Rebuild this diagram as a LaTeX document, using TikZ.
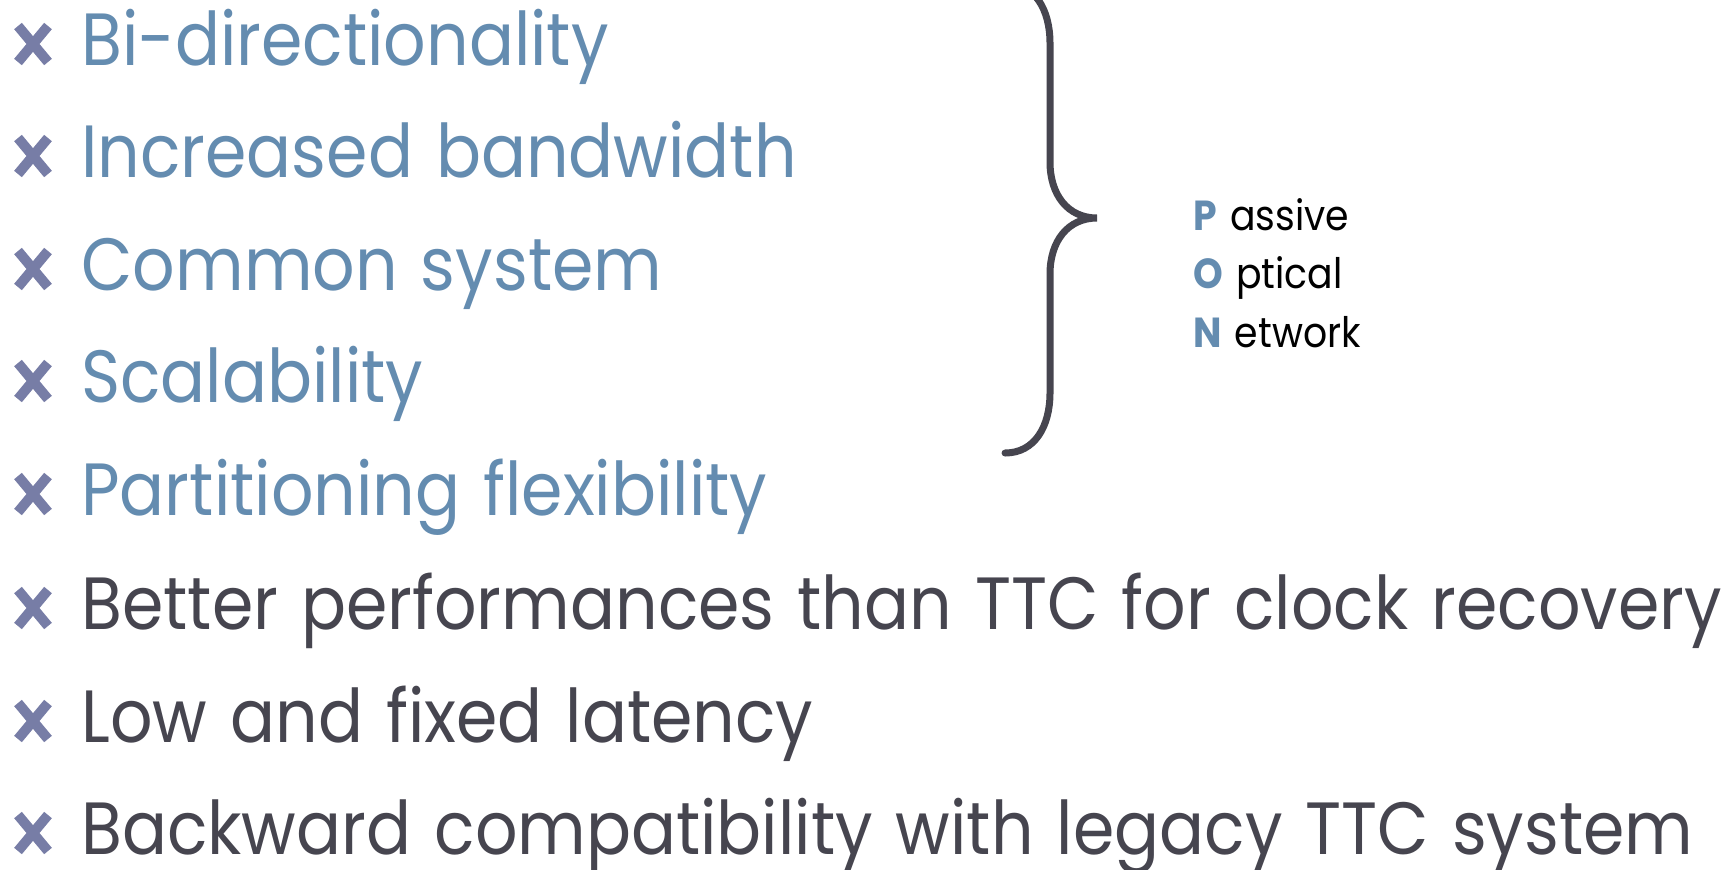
\documentclass[tikz,border=0pt]{standalone}
\usepackage{fontspec}
\setmainfont{Poppins}
\newfontfamily\narrowfont[FakeStretch=0.9,WordSpace=1.3]{Poppins}
\definecolor{itemblue}{HTML}{648CB0}
\definecolor{itemdark}{HTML}{46454F}
\definecolor{crossc}{HTML}{777DA6}
\definecolor{bracec}{HTML}{46454F}
\begin{document}
\begin{tikzpicture}[x=0.5pt,y=-0.5pt,
  itemtext/.style={anchor=base west,inner sep=0pt,font=\narrowfont\fontsize{37}{40}\selectfont},
  pontext/.style={anchor=base west,inner sep=0pt,font=\narrowfont\fontsize{21}{24}\selectfont,text=black},
  crossmark/.style={line width=5pt,line cap=butt,draw=crossc}]
\clip (0,0) rectangle (1729,869);
\useasboundingbox (0,0) rectangle (1729,869);

% bullet list
\foreach \y/\t/\c [count=\i] in {
  65/Bi-directionality/itemblue,
  177/Increased bandwidth/itemblue,
  290/Common system/itemblue,
  402/Scalability/itemblue,
  515/Partitioning flexibility/itemblue,
  629/Better performances than TTC for clock recovery/itemdark,
  742/Low and fixed latency/itemdark,
  854/Backward compatibility with legacy TTC system/itemdark}{
  \node[itemtext,text=\c] (item\i) at (81,\y) {\t};
  \draw[crossmark] (18,\y-39) -- (48,\y-3);
  \draw[crossmark] (48,\y-39) -- (18,\y-3);
}

% brace grouping the first four items
\draw[bracec,line width=3.5pt,line cap=round]
  (1005,-17) .. controls (1035,-17) and (1050,10) .. (1050,43)
  -- (1050,162) .. controls (1050,195) and (1068,218) .. (1097,218)
  .. controls (1068,218) and (1050,241) .. (1050,274)
  -- (1050,393) .. controls (1050,426) and (1035,453) .. (1005,453);

% acronym
\node[pontext] (pp) at (1193,230) {\textcolor{itemblue}{\textbf{P}}\ assive};
\node[pontext] (po) at (1193,288) {\textcolor{itemblue}{\textbf{O}}\ ptical};
\node[pontext] (pn) at (1193,347) {\textcolor{itemblue}{\textbf{N}}\ etwork};
\end{tikzpicture}
\end{document}
